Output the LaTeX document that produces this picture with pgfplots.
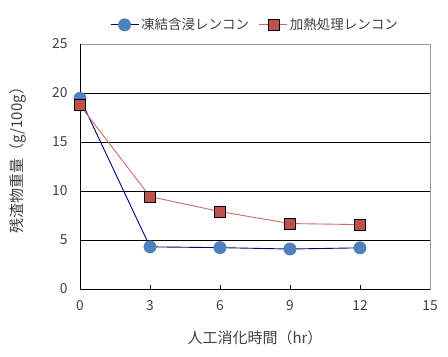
\documentclass[border=0pt]{standalone}
\usepackage{fontspec}
\setmainfont{Noto Sans CJK JP}
\usepackage{pgfplots}
\pgfplotsset{compat=1.18}
\definecolor{txt}{HTML}{404040}
\definecolor{navyl}{HTML}{000080}
\definecolor{bluem}{HTML}{4F81BD}
\definecolor{redl}{HTML}{D06A68}
\definecolor{redm}{HTML}{C0504D}
\begin{document}
\begin{tikzpicture}
\useasboundingbox (0,0) rectangle (448bp,357bp);
\begin{axis}[
  at={(80bp,68bp)}, anchor=south west,
  scale only axis, width=350bp, height=245bp,
  xmin=0, xmax=15, ymin=0, ymax=25,
  xtick={0,3,6,9,12,15}, ytick={0,5,10,15,20,25},
  xtick pos=bottom, ytick pos=left,
  tick align=inside,
  major tick length=4bp,
  ytick style={draw=none},
  xtick style={black, line width=0.8bp},
  extra y ticks={5,10,15,20},
  extra y tick labels={},
  extra y tick style={grid=major, major grid style={black, line width=0.9bp}, tick style={draw=none}},
  axis line style={draw=gray!80, line width=0.9bp},
  /pgf/number format/assume math mode=true,
  tick label style={font=\fontsize{13.8bp}{15bp}\selectfont, text=txt},
  xticklabel style={yshift=-8bp},
  yticklabel style={xshift=-9bp},
  xlabel={人工消化時間（hr）},
  ylabel={残渣物重量（g/100g）},
  label style={font=\fontsize{15bp}{17bp}\selectfont, text=txt},
  xlabel style={at={(axis description cs:0.5,-0.2)}, anchor=center},
  ylabel style={at={(axis description cs:-0.177,0.54)}, anchor=center},
  clip=false,
  legend style={at={(0.5,1.078)}, anchor=center, draw=none, fill=none,
    font=\fontsize{13.5bp}{15bp}\selectfont, text=txt, legend columns=2,
    /tikz/every even column/.append style={column sep=8bp}},
  legend image code/.code={
    \draw[#1] (0bp,0bp) -- (28bp,0bp);
    \draw[#1, only marks] plot coordinates {(14bp,0bp)};
  },
]
\addplot[color=navyl, line width=0.9bp, mark=*, mark size=6bp,
  mark options={fill=bluem, draw=bluem}]
  coordinates {(0,19.45) (3,4.3) (6,4.22) (9,4.08) (12,4.2)};
\addlegendentry{凍結含浸レンコン}
\addplot[color=redl, line width=0.9bp, mark=square*, mark size=5.5bp,
  mark options={fill=redm, draw=black, line width=0.8bp}]
  coordinates {(0,18.75) (3,9.43) (6,7.9) (9,6.68) (12,6.57)};
\addlegendentry{加熱処理レンコン}
\draw[black, line width=0.9bp] (rel axis cs:0,1) -- (rel axis cs:0,0) -- (rel axis cs:1,0);
\end{axis}
\end{tikzpicture}
\end{document}
